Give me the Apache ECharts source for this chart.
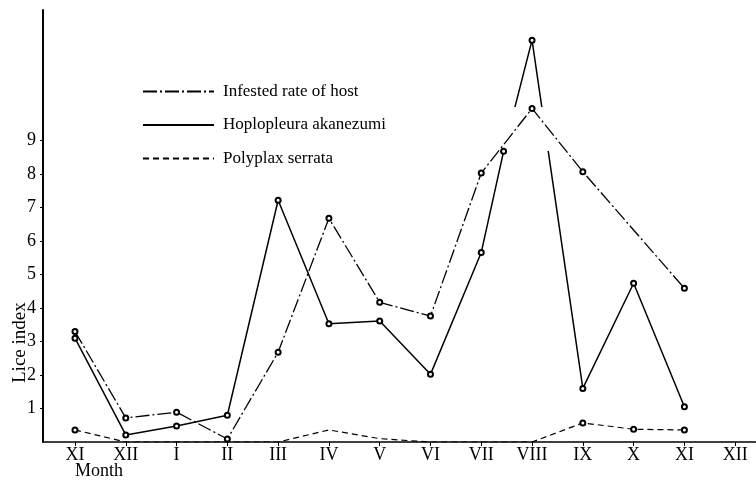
<!DOCTYPE html>
<html>
<head>
<meta charset="utf-8">
<script src="https://cdn.jsdelivr.net/npm/echarts@6/dist/echarts.min.js"></script>
<style>html,body{margin:0;padding:0;background:#fff;}#c{width:756px;height:482px;}</style>
</head>
<body>
<div id="c"></div>
<script>
const months = ['XI','XII','I','II','III','IV','V','VI','VII','VIII','IX','X','XI','XII'];
const yTicks = [1,2,3,4,5,6,7,8,9];
// Infested rate of host (month position, value); X has no reading
const infestedPos = [0,1,2,3,4,5,6,7,8,9,10,12];
const infestedRate = [3.3,0.72,0.89,0.09,2.68,6.68,4.17,3.76,8.03,9.96,8.07,4.59];
// Hoplopleura akanezumi (includes a mid-July reading)
const hoploPos = [0,1,2,3,4,5,6,7,8,8.44,9,10,11,12];
const hoplo = [3.1,0.21,0.48,0.8,7.22,3.53,3.61,2.02,5.66,8.68,12.0,1.6,4.74,1.05];
// Polyplax serrata
const polyPos = [0,1,2,3,4,5,6,7,8,9,10,11,12];
const poly = [0.36,0,0,0,0,0.36,0.1,0,0,0,0.57,0.38,0.36];
const polyMarked = [0,10,11,12];

const pair = (xs, ys) => xs.map((x, i) => [x, ys[i]]);
const serif = 'Liberation Serif';

const chart = echarts.init(document.getElementById('c'));
chart.setOption({
  animation: false,
  backgroundColor: '#fff',
  textStyle: {fontFamily: serif, color: '#000'},
  grid: {left: 43, right: 0, top: 10, bottom: 40, containLabel: false},
  legend: {
    orient: 'vertical', left: 137, top: 78,
    itemWidth: 71, itemHeight: 14, itemGap: 16.5,
    textStyle: {fontFamily: serif, fontSize: 17, color: '#000', padding: [0, 0, 0, 4]},
    itemStyle: {opacity: 0},
    lineStyle: {color: '#000'},
    data: ['Infested rate of host', 'Hoplopleura akanezumi', 'Polyplax serrata']
  },
  visualMap: {
    show: false, type: 'piecewise', seriesIndex: 1, dimension: 1,
    pieces: [
      {lt: 8.7, color: '#000'},
      {gte: 8.7, lt: 10.0, color: 'rgba(0,0,0,0)'},
      {gte: 10.0, color: '#000'}
    ]
  },
  xAxis: {
    type: 'value', min: -0.63, max: 13.41,
    splitLine: {show: false},
    axisLine: {show: true, onZero: true, lineStyle: {color: '#000', width: 1.5}},
    axisTick: {show: true, customValues: months.map((m, i) => i), length: 4, lineStyle: {color: '#000'}},
    axisLabel: {
      customValues: months.map((m, i) => i),
      formatter: v => months[Math.round(v)],
      fontFamily: serif, fontSize: 18, color: '#000', margin: 4
    }
  },
  yAxis: {
    type: 'value', min: 0, max: 12.9,
    splitLine: {show: false},
    axisLine: {show: true, onZero: false, lineStyle: {color: '#000', width: 2}},
    axisTick: {show: true, customValues: yTicks, length: 3, lineStyle: {color: '#000'}},
    axisLabel: {customValues: yTicks, fontFamily: serif, fontSize: 18, color: '#000', margin: 7}
  },
  graphic: [
    {type: 'text', left: 75, top: 462, style: {text: 'Month', font: '18px "Liberation Serif"', fill: '#000'}},
    {type: 'text', x: 11, y: 383, rotation: Math.PI / 2, style: {text: 'Lice index', font: '19px "Liberation Serif"', fill: '#000'}}
  ],
  series: [
    {
      name: 'Infested rate of host', type: 'line', connectNulls: true,
      data: pair(infestedPos, infestedRate),
      symbol: 'emptyCircle', symbolSize: 5, color: '#000',
      lineStyle: {color: '#000', width: 1.3, type: [14, 3, 2, 3]},
      itemStyle: {color: '#000', borderWidth: 1}
    },
    {
      name: 'Hoplopleura akanezumi', type: 'line',
      data: pair(hoploPos, hoplo),
      symbol: 'emptyCircle', symbolSize: 5, color: '#000',
      lineStyle: {width: 1.5, type: 'solid'},
      itemStyle: {borderWidth: 1}
    },
    {
      name: 'Polyplax serrata', type: 'line',
      data: pair(polyPos, poly),
      symbol: (v, p) => polyMarked.includes(p.dataIndex) ? 'emptyCircle' : 'none',
      symbolSize: 5, color: '#000',
      lineStyle: {color: '#000', width: 1.2, type: [6, 4]},
      itemStyle: {color: '#000', borderWidth: 1}
    }
  ]
});
</script>
</body>
</html>
